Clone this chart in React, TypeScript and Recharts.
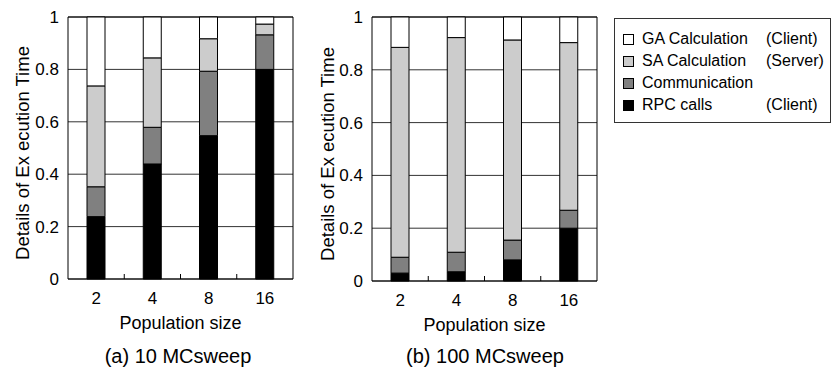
import { BarChart, Bar, XAxis, YAxis, CartesianGrid, ReferenceArea } from "recharts";

const categories = ["2", "4", "8", "16"];

// (a) 10 MCsweep — segment heights, bottom to top
const rpcA = [0.238, 0.439, 0.547, 0.8];
const commA = [0.114, 0.14, 0.246, 0.132];
const saA = [0.385, 0.265, 0.124, 0.041];
const gaA = [0.263, 0.156, 0.083, 0.027];

// (b) 100 MCsweep
const rpcB = [0.03, 0.035, 0.08, 0.2];
const commB = [0.06, 0.074, 0.075, 0.068];
const saB = [0.795, 0.813, 0.758, 0.635];
const gaB = [0.115, 0.078, 0.087, 0.097];

const yTicks = [0, 0.2, 0.4, 0.6, 0.8, 1];
const yTickLabels = ["0", "0.2", "0.4", "0.6", "0.8", "1"];

const FONT = "Arial, 'Liberation Sans', Helvetica, sans-serif";
const X_TICK_MARGIN = 13;
const PLOT_W = 225;
const RIGHT_MARGIN = 17;

const buildRows = (rpc: number[], comm: number[], sa: number[], ga: number[]) =>
  categories.map((c, i) => ({ cat: c, rpc: rpc[i], comm: comm[i], sa: sa[i], ga: ga[i] }));

const dataA = buildRows(rpcA, commA, saA, gaA);
const dataB = buildRows(rpcB, commB, saB, gaB);

const series = [
  { key: "rpc", fill: "#000000" },
  { key: "comm", fill: "#808080" },
  { key: "sa", fill: "#cccccc" },
  { key: "ga", fill: "#ffffff" },
];

const legendItems = [
  { name: "GA Calculation", side: "(Client)", fill: "#ffffff" },
  { name: "SA Calculation", side: "(Server)", fill: "#cccccc" },
  { name: "Communication", side: "", fill: "#808080" },
  { name: "RPC calls", side: "(Client)", fill: "#000000" },
];

// category label plus the small inward tick on the band boundary to its left
function CatTick(props: any) {
  const { x, y, payload } = props;
  const idx = categories.indexOf(String(payload.value));
  const half = PLOT_W / categories.length / 2;
  const base = Number(y) - X_TICK_MARGIN;
  const tx = Number(x) - half;
  return (
    <g>
      <text
        x={x}
        y={y}
        dy={12}
        textAnchor="middle"
        style={{ fontFamily: FONT, fontSize: 17, fill: "#000" }}
      >
        {payload.value}
      </text>
      {idx > 0 ? (
        <rect x={tx - 0.5} y={base - 5} width={1} height={5} fill="#000" />
      ) : null}
    </g>
  );
}

function YLabel({ viewBox, labelX }: any) {
  const cy = viewBox.y + viewBox.height / 2 + 5;
  return (
    <text
      x={labelX}
      y={cy}
      transform={`rotate(-90, ${labelX}, ${cy})`}
      textAnchor="middle"
      dominantBaseline="central"
      style={{ fontFamily: FONT, fontSize: 18.5, fill: "#000" }}
    >
      Details of Ex ecution Time
    </text>
  );
}

function XLabel({ viewBox, dy }: any) {
  return (
    <text
      x={viewBox.x + viewBox.width / 2}
      y={viewBox.y + dy}
      textAnchor="middle"
      style={{ fontFamily: FONT, fontSize: 18, fill: "#000" }}
    >
      Population size
    </text>
  );
}

function Panel({ data, axisWidth, labelX, xHeight }: any) {
  return (
    <BarChart
      width={axisWidth + PLOT_W + RIGHT_MARGIN}
      height={340}
      data={data}
      margin={{ top: 17, right: RIGHT_MARGIN, left: 0, bottom: 0 }}
      barSize={18}
    >
      <CartesianGrid vertical={false} stroke="#333" strokeWidth={1} />
      <XAxis
        dataKey="cat"
        axisLine={false}
        tickLine={false}
        tickMargin={X_TICK_MARGIN}
        tickSize={0}
        height={xHeight}
        interval={0}
        tick={(p: any) => <CatTick {...p} />}
        label={<XLabel dy={50} />}
      />
      <YAxis
        domain={[0, 1]}
        ticks={yTicks}
        tickFormatter={(v: number) => yTickLabels[yTicks.indexOf(v)]}
        axisLine={false}
        tickLine={false}
        tickSize={0}
        tickMargin={9}
        width={axisWidth}
        tick={{ fill: "#000", fontSize: 17, fontFamily: FONT }}
        label={<YLabel labelX={labelX} />}
      />
      {series.map((s) => (
        <Bar
          key={s.key}
          dataKey={s.key}
          stackId="a"
          fill={s.fill}
          stroke="#000"
          strokeWidth={1}
          isAnimationActive={false}
        />
      ))}
      <ReferenceArea y1={0} y2={1} fill="none" stroke="#000" strokeWidth={1} ifOverflow="visible" />
    </BarChart>
  );
}

export default function App() {
  const caption: React.CSSProperties = {
    position: "absolute",
    top: 346,
    width: 240,
    textAlign: "center",
    fontFamily: FONT,
    fontSize: 20,
    lineHeight: "20px",
    color: "#000",
    whiteSpace: "nowrap",
  };
  return (
    <div
      style={{
        position: "absolute",
        left: 0,
        top: 0,
        width: 833,
        height: 372,
        background: "#fff",
        fontFamily: FONT,
      }}
    >
      <div style={{ position: "absolute", left: 0, top: 0 }}>
        <Panel data={dataA} axisWidth={68} labelX={22} xHeight={61} />
      </div>
      <div style={{ position: "absolute", left: 300, top: 0 }}>
        <Panel data={dataB} axisWidth={72} labelX={27} xHeight={59} />
      </div>
      <div style={{ ...caption, left: 58 }}>(a) 10 MCsweep</div>
      <div style={{ ...caption, left: 365 }}>(b) 100 MCsweep</div>
      <div
        style={{
          position: "absolute",
          left: 614,
          top: 18,
          width: 217,
          height: 105,
          border: "1px solid #333",
          boxSizing: "border-box",
        }}
      >
        {legendItems.map((it, i) => (
          <div
            key={it.name}
            style={{
              position: "absolute",
              left: 0,
              top: 9 + i * 22,
              height: 22,
              width: 215,
              fontSize: 16,
              lineHeight: "22px",
              color: "#000",
              whiteSpace: "nowrap",
            }}
          >
            <span
              style={{
                position: "absolute",
                left: 8,
                top: 6,
                width: 9,
                height: 9,
                background: it.fill,
                border: "1px solid #000",
              }}
            />
            <span style={{ position: "absolute", left: 27 }}>{it.name}</span>
            <span style={{ position: "absolute", left: 151 }}>{it.side}</span>
          </div>
        ))}
      </div>
    </div>
  );
}
